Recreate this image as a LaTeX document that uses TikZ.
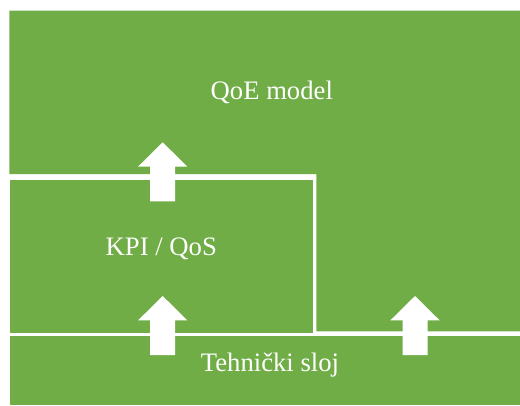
\documentclass[tikz,border=0pt]{standalone}
\usepackage{fontspec}
\setmainfont{Liberation Serif}
\definecolor{layergreen}{RGB}{112,173,71}
\begin{document}
\begin{tikzpicture}
  [x=0.75pt,y=-0.75pt,every node/.style={text=white,anchor=base,font=\fontsize{20}{24}\selectfont}]
  \tikzstyle{layer} = [fill=layergreen]
  \tikzstyle{uparrow} = [fill=white]
  \useasboundingbox (0,0) rectangle (520,405);
  % layers
  \fill[layer] (9.3,10.7) -- (520,10.7) -- (520,331.3) -- (316.3,331.3) -- (316.3,174) -- (9.3,174) -- cycle;
  \fill[layer] (10,179.5) rectangle (312.7,332.7);
  \fill[layer] (10,336) rectangle (520,405);
  % arrows
\foreach \cx /\ty in {162.7/142.3,162.7/296,415/296}
   \fill[uparrow] (\cx,\ty) -- ++(24.7,24.4) -- ++(-12.2,0) -- ++(0,34.6)
     -- ++(-25,0) -- ++(0,-34.6) -- ++(-12.2,0) -- cycle;
  \node (qoe) at (271.8,99.3) {QoE model};
  \node (kpi) at (161.3,255) {KPI / QoS};
  \node (sloj) at (270,371.7) {Tehnički sloj};
\end{tikzpicture}
\end{document}
